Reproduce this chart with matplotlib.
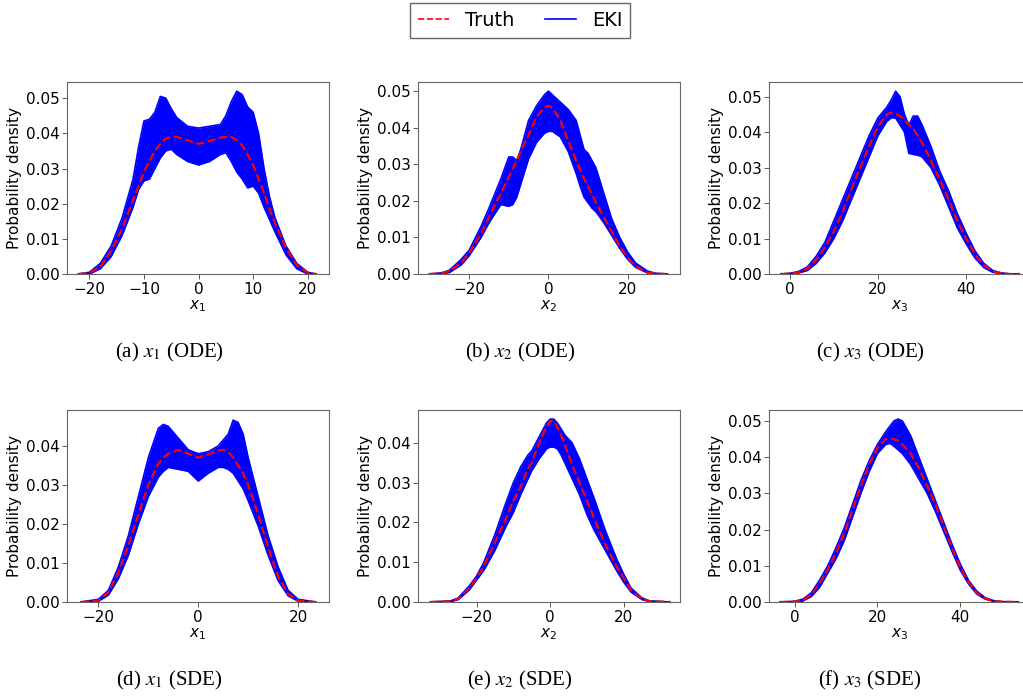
import numpy as np
import matplotlib.pyplot as plt

# ---- panel (a): x1, ODE ----
xa = [-22, -20, -18, -16, -14, -12, -11, -10, -9, -8, -7, -6, -5, -4, -2, 0,
      2, 4, 5, 6, 7, 8, 9, 10, 11, 12, 13, 14, 16, 18, 20, 21.5]
truth_a = [0, 0.0003, 0.002, 0.0065, 0.013, 0.021, 0.025, 0.029, 0.032, 0.035, 0.037, 0.0385, 0.039, 0.039, 0.038, 0.037,
           0.0378, 0.0388, 0.039, 0.039, 0.038, 0.0365, 0.034, 0.031, 0.027, 0.023, 0.0185, 0.0145, 0.0075, 0.0025, 0.0004, 0]
upper_a = [0, 0.0005, 0.003, 0.008, 0.016, 0.027, 0.036, 0.0435, 0.044, 0.046, 0.0505, 0.050, 0.047, 0.0445, 0.042, 0.0415,
           0.042, 0.0425, 0.045, 0.049, 0.052, 0.051, 0.0475, 0.046, 0.040, 0.030, 0.022, 0.016, 0.008, 0.003, 0.0005, 0]
lower_a = [0, 0, 0.0015, 0.005, 0.011, 0.019, 0.024, 0.0265, 0.027, 0.030, 0.033, 0.035, 0.0355, 0.034, 0.032, 0.031,
           0.032, 0.034, 0.0345, 0.032, 0.029, 0.027, 0.0245, 0.025, 0.023, 0.019, 0.0155, 0.012, 0.0055, 0.0015, 0, 0]

# ---- panel (b): x2, ODE ----
xb = [-30, -27, -25, -22, -20, -17, -15, -12, -10, -9, -8, -7, -5, -3, -1, 0,
      1, 3, 5, 7, 8, 9, 10, 11, 12, 14, 16, 18, 20, 22, 25, 27, 30]
truth_b = [0, 0.0002, 0.0008, 0.003, 0.0057, 0.011, 0.0155, 0.022, 0.0265, 0.0287, 0.031, 0.0335, 0.038, 0.043, 0.0455, 0.046,
           0.0455, 0.042, 0.0365, 0.031, 0.0285, 0.026, 0.024, 0.0218, 0.0195, 0.0155, 0.0115, 0.0075, 0.0045, 0.002, 0.0004, 0.0001, 0]
upper_b = [0, 0.0003, 0.001, 0.004, 0.0065, 0.013, 0.018, 0.026, 0.032, 0.032, 0.031, 0.034, 0.042, 0.046, 0.049, 0.050,
           0.049, 0.047, 0.045, 0.042, 0.038, 0.034, 0.033, 0.031, 0.029, 0.022, 0.015, 0.010, 0.006, 0.003, 0.0008, 0.0002, 0]
lower_b = [0, 0.0001, 0.0004, 0.0025, 0.005, 0.010, 0.014, 0.019, 0.0185, 0.019, 0.021, 0.0245, 0.0315, 0.036, 0.0385, 0.039,
           0.039, 0.0375, 0.0335, 0.0275, 0.024, 0.021, 0.0195, 0.018, 0.017, 0.014, 0.0105, 0.007, 0.004, 0.0018, 0.0003, 0, 0]

# ---- panel (c): x3, ODE ----
xc = [-2, 0, 2, 4, 6, 8, 10, 12, 14, 16, 18, 20, 22, 23, 24, 25, 26, 27,
      28, 29, 30, 32, 34, 36, 38, 40, 42, 44, 46, 48, 50, 52]
truth_c = [0, 0.0001, 0.0004, 0.0015, 0.004, 0.0075, 0.012, 0.0175, 0.024, 0.030, 0.036, 0.0415, 0.045, 0.0455, 0.0452, 0.0445, 0.0435, 0.042,
           0.041, 0.039, 0.037, 0.032, 0.0265, 0.021, 0.015, 0.010, 0.0055, 0.0025, 0.0008, 0.0002, 0, 0]
upper_c = [0, 0.0002, 0.0007, 0.002, 0.005, 0.009, 0.015, 0.021, 0.027, 0.033, 0.039, 0.044, 0.047, 0.049, 0.0515, 0.050, 0.045, 0.042,
           0.0445, 0.0445, 0.042, 0.036, 0.029, 0.0235, 0.017, 0.0115, 0.0065, 0.003, 0.001, 0.0003, 0, 0]
lower_c = [0, 0, 0.0003, 0.001, 0.003, 0.006, 0.010, 0.015, 0.021, 0.027, 0.033, 0.039, 0.043, 0.044, 0.044, 0.042, 0.040, 0.034,
           0.0337, 0.0335, 0.033, 0.030, 0.025, 0.019, 0.013, 0.0085, 0.0045, 0.0018, 0.0005, 0.0001, 0, 0]

# ---- panel (d): x1, SDE ----
xd = [-23.5, -20, -18, -16, -14, -12, -10, -8, -7, -6, -4, -2, 0,
      2, 4, 5, 6, 7, 8, 9, 10, 12, 14, 16, 18, 20, 23.5]
truth_d = [0, 0.0004, 0.0025, 0.0075, 0.0145, 0.0225, 0.030, 0.0355, 0.037, 0.038, 0.039, 0.038, 0.037,
           0.0378, 0.0388, 0.039, 0.0385, 0.037, 0.035, 0.033, 0.030, 0.0225, 0.014, 0.0065, 0.002, 0.0004, 0]
upper_d = [0, 0.0007, 0.003, 0.009, 0.017, 0.027, 0.037, 0.0445, 0.0455, 0.045, 0.042, 0.039, 0.038,
           0.0385, 0.040, 0.0415, 0.043, 0.0466, 0.046, 0.043, 0.037, 0.027, 0.017, 0.009, 0.003, 0.0007, 0]
lower_d = [0, 0.0002, 0.0018, 0.006, 0.012, 0.020, 0.027, 0.032, 0.0335, 0.0345, 0.034, 0.0335, 0.031,
           0.033, 0.0345, 0.0345, 0.034, 0.033, 0.031, 0.029, 0.026, 0.0195, 0.012, 0.0055, 0.0016, 0.0002, 0]

# ---- panel (e): x2, SDE ----
xe = [-32.5, -27, -25, -22, -20, -18, -15, -12, -10, -8, -6, -5, -3, -1, 0,
      1, 2, 3, 4, 5, 6, 8, 10, 12, 15, 18, 20, 22, 25, 27, 32.5]
truth_e = [0, 0.0002, 0.0008, 0.0035, 0.006, 0.009, 0.015, 0.021, 0.0255, 0.029, 0.0335, 0.035, 0.040, 0.044, 0.0455,
           0.0455, 0.044, 0.042, 0.0395, 0.037, 0.0345, 0.030, 0.0255, 0.021, 0.0145, 0.009, 0.006, 0.003, 0.0008, 0.0002, 0]
upper_e = [0, 0.0003, 0.001, 0.004, 0.0065, 0.010, 0.017, 0.025, 0.030, 0.034, 0.037, 0.038, 0.0415, 0.045, 0.046,
           0.046, 0.045, 0.0435, 0.042, 0.041, 0.040, 0.036, 0.031, 0.026, 0.018, 0.011, 0.007, 0.0035, 0.001, 0.0003, 0]
lower_e = [0, 0.0001, 0.0006, 0.003, 0.0055, 0.008, 0.013, 0.019, 0.0225, 0.027, 0.031, 0.033, 0.036, 0.0385, 0.039,
           0.039, 0.0385, 0.037, 0.035, 0.033, 0.031, 0.027, 0.022, 0.018, 0.013, 0.008, 0.005, 0.0025, 0.0006, 0.0001, 0]

# ---- panel (f): x3, SDE ----
xf = [-3.5, 0, 2, 4, 6, 8, 10, 12, 14, 16, 18, 20, 22, 23, 24, 25, 26,
      28, 30, 32, 34, 36, 38, 40, 42, 44, 46, 48, 50, 54]
truth_f = [0, 0.0001, 0.0005, 0.002, 0.005, 0.009, 0.0135, 0.019, 0.0255, 0.032, 0.038, 0.0425, 0.045, 0.0452, 0.045, 0.0445, 0.0435,
           0.041, 0.037, 0.032, 0.027, 0.021, 0.015, 0.0095, 0.0055, 0.0025, 0.001, 0.0003, 0.0001, 0]
upper_f = [0, 0.0002, 0.0008, 0.0025, 0.006, 0.010, 0.015, 0.0205, 0.027, 0.0335, 0.039, 0.0435, 0.047, 0.0485, 0.050, 0.0505, 0.050,
           0.046, 0.040, 0.034, 0.028, 0.022, 0.016, 0.0105, 0.006, 0.003, 0.0012, 0.0004, 0.0001, 0]
lower_f = [0, 0, 0.0003, 0.0015, 0.004, 0.008, 0.012, 0.017, 0.0235, 0.030, 0.036, 0.041, 0.0435, 0.0438, 0.043, 0.042, 0.041,
           0.038, 0.034, 0.030, 0.025, 0.0195, 0.014, 0.0088, 0.005, 0.0022, 0.0008, 0.0002, 0, 0]

panels = [
    (xa, truth_a, upper_a, lower_a, r'$x_1$', '(a) $x_1$ (ODE)', (-24.1, 23.9), 0.0546),
    (xb, truth_b, upper_b, lower_b, r'$x_2$', '(b) $x_2$ (ODE)', (-32.9, 33.2), 0.0525),
    (xc, truth_c, upper_c, lower_c, r'$x_3$', '(c) $x_3$ (ODE)', (-4.7, 54.7), 0.0541),
    (xd, truth_d, upper_d, lower_d, r'$x_1$', '(d) $x_1$ (SDE)', (-26.3, 26.2), 0.0492),
    (xe, truth_e, upper_e, lower_e, r'$x_2$', '(e) $x_2$ (SDE)', (-35.9, 35.3), 0.0483),
    (xf, truth_f, upper_f, lower_f, r'$x_3$', '(f) $x_3$ (SDE)', (-6.2, 57.1), 0.0530),
]

fig = plt.figure(figsize=(10.23, 6.98), dpi=100)

W, H = 1023, 698
lefts = [67, 418, 769]
bottoms = [274, 602]
cap_x = [169, 520, 870]
cap_y = [352, 680]

for i, (x, tr, up, lo, xl, cap, xlim, ytop) in enumerate(panels):
    r, c = divmod(i, 3)
    ax = fig.add_axes([lefts[c] / W, 1 - bottoms[r] / H, 262 / W, 192 / H])
    ax.fill_between(x, lo, up, color='blue', lw=0)
    ax.plot(x, up, color='blue', lw=1.2)
    ax.plot(x, lo, color='blue', lw=1.2)
    ax.plot(x, tr, color='red', ls='--', lw=1.6)
    ax.set_xlim(*xlim)
    ax.set_ylim(0, ytop)
    ax.set_xlabel(xl, fontsize=11, labelpad=1)
    ax.set_ylabel('Probability density', fontsize=11, labelpad=3)
    ax.tick_params(labelsize=11, length=3.5, width=0.7, color='0.35')
    ax.tick_params(axis='y', pad=1.5)
    ax.tick_params(axis='x', pad=2.5)
    for s in ax.spines.values():
        s.set_color('0.4')
        s.set_linewidth(0.8)
    fig.text(cap_x[c] / W, 1 - cap_y[r] / H, cap, ha='center', va='center',
             fontsize=15, family='Liberation Serif', math_fontfamily='stix')

h1, = plt.plot([], [], color='red', ls='--', lw=1.2, label='Truth')
h2, = plt.plot([], [], color='blue', lw=1.2, label='EKI')
fig.legend(handles=[h1, h2], loc='upper center', bbox_to_anchor=(520 / W, 1 - 3 / H),
           borderaxespad=0, ncol=2, fontsize=14, fancybox=False, edgecolor='0.4',
           framealpha=1, handlelength=1.6, columnspacing=1.6)

fig.savefig('out.png', dpi=100)
